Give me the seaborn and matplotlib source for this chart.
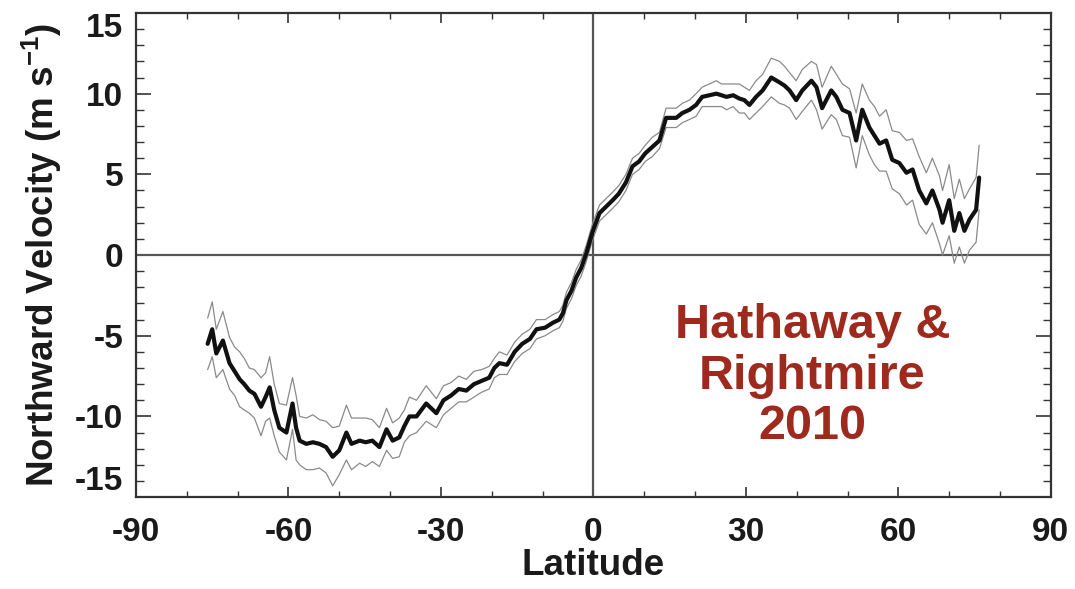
import numpy as np
import pandas as pd
import matplotlib
matplotlib.use("Agg")
import matplotlib.pyplot as plt
from matplotlib.ticker import MultipleLocator
import seaborn as sns

# Northward meridional flow versus latitude (mean and 1-sigma spread)
latitude = [
    -75.9, -75.0, -74.2, -72.9, -71.6, -70.6, -69.6, -68.7, -67.7, -66.7,
    -65.4, -64.5, -63.7, -62.8, -61.8, -60.4, -59.2, -58.5, -57.8, -56.5,
    -55.2, -53.9, -52.6, -51.3, -50.0, -48.6, -47.6, -46.0, -44.8, -43.5,
    -42.1, -40.7, -39.5, -38.2, -37.2, -36.2, -34.8, -32.9, -30.9, -29.5,
    -28.0, -26.5, -25.0, -23.5, -22.0, -20.5, -19.5, -18.5, -17.0, -15.5,
    -14.0, -12.5, -11.2, -9.5, -8.0, -6.7, -6.0, -5.3, -4.3, -3.4,
    -2.4, -1.4, -0.2, 1.2, 2.5, 3.8, 5.0, 6.4, 7.7, 9.0,
    10.2, 11.6, 13.0, 14.3, 16.3, 17.5, 18.9, 20.2, 21.4, 22.8,
    24.2, 25.2, 26.2, 27.5, 28.7, 29.7, 30.7, 32.0, 33.3, 35.0,
    36.6, 37.6, 38.6, 39.9, 41.1, 42.9, 43.9, 45.0, 46.8, 47.8,
    49.0, 50.4, 51.7, 52.9, 54.3, 55.3, 56.3, 57.6, 58.8, 60.2,
    61.6, 62.8, 64.1, 65.5, 66.7, 68.1, 68.7, 70.0, 71.0, 72.0,
    73.0, 74.0, 75.3, 75.9,
]
velocity = [
    -5.5, -4.6, -6.1, -5.3, -6.7, -7.2, -7.7, -8.0, -8.4, -8.6,
    -9.4, -8.8, -8.2, -9.6, -10.7, -11.0, -9.2, -10.7, -11.5, -11.7,
    -11.6, -11.7, -11.9, -12.5, -12.1, -11.0, -11.7, -11.5, -11.6, -11.5,
    -11.9, -10.8, -11.5, -11.3, -10.6, -10.0, -10.0, -9.2, -9.8, -9.0,
    -8.7, -8.3, -8.4, -8.0, -7.8, -7.6, -7.0, -6.7, -6.8, -6.0,
    -5.5, -5.2, -4.6, -4.5, -4.2, -4.0, -3.6, -2.8, -2.2, -1.4,
    -0.8, 0.1, 1.4, 2.6, 3.0, 3.4, 3.8, 4.5, 5.5, 5.8,
    6.3, 6.7, 7.1, 8.5, 8.5, 8.8, 9.0, 9.3, 9.8, 9.9,
    10.0, 9.9, 9.8, 9.9, 9.7, 9.6, 9.3, 9.8, 10.2, 11.0,
    10.7, 10.5, 10.2, 9.6, 10.2, 10.8, 10.4, 9.1, 10.2, 9.8,
    9.0, 8.8, 7.1, 9.0, 7.9, 7.4, 6.9, 7.1, 5.9, 5.7,
    5.1, 5.3, 4.0, 3.2, 4.0, 2.8, 2.0, 3.4, 1.5, 2.6,
    1.5, 2.2, 2.8, 4.8,
]
spread = [
    1.6, 1.7, 1.5, 1.8, 1.6, 1.5, 1.7, 1.6, 1.4, 1.5,
    1.8, 1.5, 1.9, 1.6, 1.5, 1.7, 1.6, 2.0, 1.5, 1.6,
    1.7, 1.5, 1.6, 1.8, 1.5, 1.7, 1.6, 1.4, 1.5, 1.3,
    1.2, 1.3, 1.1, 1.2, 1.0, 1.2, 1.0, 1.1, 0.9, 0.9,
    0.8, 0.8, 0.7, 0.8, 0.7, 0.7, 0.6, 0.7, 0.6, 0.6,
    0.6, 0.6, 0.6, 0.5, 0.5, 0.5, 0.5, 0.5, 0.5, 0.5,
    0.5, 0.5, 0.5, 0.5, 0.5, 0.5, 0.5, 0.5, 0.5, 0.5,
    0.5, 0.6, 0.5, 0.6, 0.6, 0.6, 0.6, 0.7, 0.6, 0.7,
    0.8, 0.7, 0.8, 0.7, 0.9, 0.8, 0.9, 1.0, 1.0, 1.2,
    1.3, 1.2, 1.1, 1.2, 1.3, 1.2, 1.4, 1.3, 1.5, 1.4,
    1.6, 1.5, 1.7, 1.6, 1.7, 1.8, 1.7, 1.9, 1.8, 1.9,
    2.0, 1.9, 2.1, 1.9, 2.0, 2.1, 2.0, 2.2, 2.0, 2.1,
    2.0, 1.9, 2.0, 2.0,
]

x_ticks = [-90, -60, -30, 0, 30, 60, 90]
y_ticks = [-15, -10, -5, 0, 5, 10, 15]
y_tick_labels = ["-15", "-10", "-5", "0", "5", "10", "15"]

df = pd.DataFrame({"lat": latitude, "v": velocity, "err": spread})
df["upper"] = df["v"] + df["err"]
df["lower"] = df["v"] - df["err"]

sns.set_theme(style="ticks")
plt.rcParams["font.family"] = ["Liberation Sans", "DejaVu Sans"]
plt.rcParams["font.weight"] = "bold"
plt.rcParams["axes.unicode_minus"] = False
plt.rcParams["mathtext.fontset"] = "custom"
plt.rcParams["mathtext.rm"] = "Liberation Sans:bold"
plt.rcParams["mathtext.default"] = "rm"

fig = plt.figure(figsize=(10.75, 5.89), dpi=100)
ax = fig.add_axes([0.1265, 0.156, 0.851, 0.822])

ax.axhline(0, color="#555555", lw=1.6, zorder=1)
ax.axvline(0, color="#555555", lw=1.6, zorder=1)

band_kw = dict(color="#8a8a8a", lw=0.9, estimator=None, sort=False, ax=ax, zorder=2)
sns.lineplot(data=df, x="lat", y="upper", **band_kw)
sns.lineplot(data=df, x="lat", y="lower", **band_kw)
sns.lineplot(data=df, x="lat", y="v", color="#111111", lw=3.0,
             estimator=None, sort=False, ax=ax, zorder=3)

ax.set_xlim(-90, 90)
ax.set_ylim(-15, 15)
ax.set_xticks(x_ticks)
ax.set_yticks(y_ticks, labels=y_tick_labels)
ax.xaxis.set_minor_locator(MultipleLocator(10))
ax.yaxis.set_minor_locator(MultipleLocator(1))

# keep the end labels of the y axis inside the frame
ylabels = ax.get_yticklabels()
ylabels[0].set_va("bottom")
ylabels[-1].set_va("top")

for side in ax.spines.values():
    side.set_color("#333333")
    side.set_linewidth(1.6)

ax.tick_params(axis="both", which="both", direction="in", top=True, right=True,
               colors="#333333", labelcolor="#1a1a1a", labelsize=24)
ax.tick_params(axis="x", which="major", length=7, width=1.2, pad=14)
ax.tick_params(axis="x", which="minor", length=4, width=1.0)
ax.tick_params(axis="y", which="major", length=11, width=1.2, pad=9)
ax.tick_params(axis="y", which="minor", length=6, width=1.0)

ax.set_xlabel("Latitude", fontsize=26.5, fontweight="bold", color="#1a1a1a", labelpad=0)
ax.set_ylabel(r"Northward Velocity (m s$^{-1}$)", fontsize=26.5, fontweight="bold",
              color="#1a1a1a", labelpad=8)

ax.text(43.1, -7.5, "Hathaway &\nRightmire\n2010", color="#9e2a1e", fontsize=35,
        fontweight="bold", ha="center", va="center", linespacing=1.15, zorder=4)

fig.savefig("out.png", dpi=100, facecolor="white")
